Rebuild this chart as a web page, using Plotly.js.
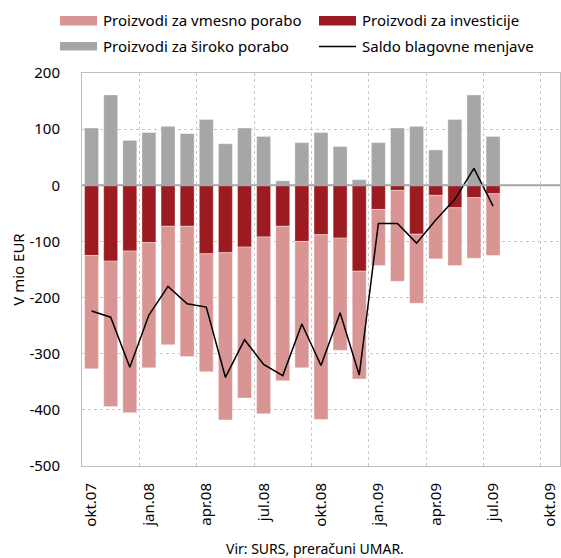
<!DOCTYPE html>
<html>
<head>
<meta charset="utf-8">
<script src="https://cdn.plot.ly/plotly-3.0.1.min.js"></script>
<style>html,body{margin:0;padding:0;background:#fff;}#chart{width:561px;height:558px;}</style>
</head>
<body>
<div id="chart"></div>
<script>
// Months (okt.07 .. jul.09)
const categories = ['okt.07','nov.07','dec.07','jan.08','feb.08','mar.08','apr.08','maj.08','jun.08','jul.08','avg.08','sep.08',
                    'okt.08','nov.08','dec.08','jan.09','feb.09','mar.09','apr.09','maj.09','jun.09','jul.09'];
// Axis months shown (incl. empty ones up to okt.09)
const axisMonths = categories.concat(['avg.09','sep.09','okt.09']);
const tickLabels = ['okt.07','jan.08','apr.08','jul.08','okt.08','jan.09','apr.09','jul.09','okt.09'];
const yTickVals = [200,100,0,-100,-200,-300,-400,-500];
const yTickText = ['200','100','0','-100','-200','-300','-400','-500'];

const vmesno      = [-202,-259,-288,-223,-211,-232,-210,-298,-269,-315,-275,-225,-329,-200,-192,-100,-162,-123,-113,-103,-108,-110];
const investicije = [-125,-135,-117,-102,-73,-73,-122,-120,-110,-92,-73,-100,-88,-94,-153,-43,-9,-87,-18,-40,-22,-15];
const siroko      = [102,161,80,94,105,92,117,74,102,87,8,76,94,69,10,76,102,105,63,117,161,87];
const saldo       = [-224,-235,-324,-231,-180,-211,-217,-342,-275,-319,-339,-247,-321,-227,-338,-68,-68,-103,-62,-25,30,-37];

const seriesNames = ['Proizvodi za vmesno porabo','Proizvodi za investicije','Proizvodi za široko porabo','Saldo blagovne menjave'];

const xIdx = categories.map(c => axisMonths.indexOf(c));
const tickPos = tickLabels.map(t => axisMonths.indexOf(t));
const gridPos = tickPos.map(p => p - 0.5);

const C_PINK = '#d99594', C_RED = '#9b1b20', C_GRAY = '#a6a6a6';
const FONT = 'Noto Sans, Open Sans, sans-serif';

const traces = [
  {type:'bar', x:xIdx, y:investicije, name:seriesNames[1], marker:{color:C_RED, line:{color:'rgba(255,255,255,0.35)', width:1}}, hoverinfo:'y'},
  {type:'bar', x:xIdx, y:vmesno, name:seriesNames[0], marker:{color:C_PINK, line:{color:'rgba(255,255,255,0.35)', width:1}}, hoverinfo:'y'},
  {type:'bar', x:xIdx, y:siroko, name:seriesNames[2], marker:{color:C_GRAY, line:{color:'rgba(255,255,255,0.35)', width:1}}, hoverinfo:'y'},
  {type:'scatter', mode:'lines', x:xIdx, y:saldo, name:seriesNames[3], line:{color:'#000', width:1.5}, hoverinfo:'y'}
];

// plot-area pixel -> paper helpers (for legend / source placement)
const L = 82, R = 1, T = 73, B = 92, W = 561, H = 558;
const pw = W - L - R, ph = H - T - B;
const px = v => (v - L) / pw;
const py = v => (H - B - v) / ph;

const legendShapes = [
  {type:'rect', xref:'paper', yref:'paper', x0:px(60), x1:px(97), y0:py(25.5), y1:py(16), fillcolor:C_PINK, line:{width:0}},
  {type:'rect', xref:'paper', yref:'paper', x0:px(319), x1:px(356), y0:py(25.5), y1:py(16), fillcolor:C_RED, line:{width:0}},
  {type:'rect', xref:'paper', yref:'paper', x0:px(60), x1:px(97), y0:py(50.5), y1:py(42), fillcolor:C_GRAY, line:{width:0}},
  {type:'line', xref:'paper', yref:'paper', x0:px(319), x1:px(356), y0:py(46.5), y1:py(46.5), line:{color:'#000', width:1.5}},
  {type:'line', xref:'paper', yref:'y', x0:0, x1:1, y0:0, y1:0, line:{color:'#a6a6a6', width:2}, layer:'above'}
];

const legendText = [
  {text:seriesNames[0], x:px(101), y:py(20.5)},
  {text:seriesNames[1], x:px(360), y:py(20.5)},
  {text:seriesNames[2], x:px(101), y:py(46.5)},
  {text:seriesNames[3], x:px(360), y:py(46.5)}
].map(a => Object.assign(a, {xref:'paper', yref:'paper', xanchor:'left', yanchor:'middle', showarrow:false, font:{family:FONT, size:15, color:'#000'}}));

const annotations = legendText.concat([
  {text:'Vir: SURS, preračuni UMAR.', xref:'paper', yref:'paper', x:px(315), y:py(548), xanchor:'center', yanchor:'middle', showarrow:false, font:{family:FONT, size:14, color:'#000'}}
]);

const layout = {
  width:W, height:H,
  margin:{l:L, r:R, t:T, b:B, pad:0},
  paper_bgcolor:'#fff', plot_bgcolor:'#fff',
  barmode:'relative', bargap:0.27,
  showlegend:false,
  font:{family:FONT, size:14, color:'#000'},
  xaxis:{
    range:[-0.5, axisMonths.length - 0.5],
    tickmode:'array', tickvals:tickPos, ticktext:tickLabels,
    tickangle:-90, ticks:'', ticklabelstandoff:10,
    showgrid:false, zeroline:false,
    minor:{tickmode:'array', tickvals:gridPos, showgrid:true, gridcolor:'#c8c8c8', griddash:'dot', gridwidth:1, ticks:''},
    showline:true, linecolor:'#bfbfbf', linewidth:1, mirror:true,
    tickfont:{family:FONT, size:15, color:'#000'}
  },
  yaxis:{
    range:[-500, 200], tickmode:'array', tickvals:yTickVals, ticktext:yTickText,
    ticks:'', ticklabelstandoff:18,
    showgrid:true, gridcolor:'#c8c8c8', griddash:'dot', gridwidth:1,
    zeroline:false,
    showline:true, linecolor:'#bfbfbf', linewidth:1, mirror:true,
    tickfont:{family:FONT, size:15, color:'#000'},
    title:{text:'V mio EUR', font:{family:FONT, size:15, color:'#000'}, standoff:1}
  },
  shapes:legendShapes,
  annotations:annotations
};

Plotly.newPlot('chart', traces, layout, {displayModeBar:false, staticPlot:true});
</script>
</body>
</html>
